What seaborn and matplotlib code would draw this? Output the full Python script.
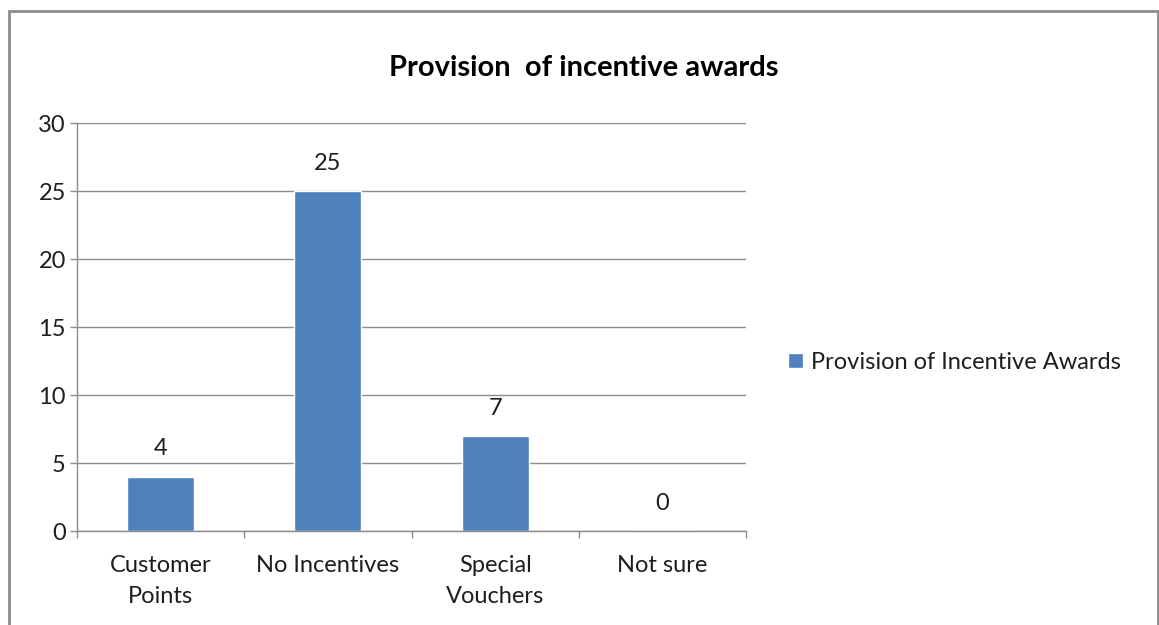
import matplotlib
matplotlib.use("Agg")
import matplotlib.pyplot as plt
from matplotlib.patches import Rectangle
import seaborn as sns
import pandas as pd

categories = ["Customer\nPoints", "No Incentives", "Special\nVouchers", "Not sure"]
values = [4, 25, 7, 0]
series_name = "Provision of Incentive Awards"
title = "Provision  of incentive awards"
y_ticks = [0, 5, 10, 15, 20, 25, 30]

sns.set_theme(style="white")
plt.rcParams["font.family"] = ["Lato", "DejaVu Sans"]

df = pd.DataFrame({"category": categories, "value": values, "series": series_name})

W, H = 1159, 625
fig = plt.figure(figsize=(W / 100, H / 100), dpi=100)
fig.patch.set_facecolor("white")

# outer chart frame
fig.add_artist(Rectangle((9 / W, -0.05), (1158 - 9) / W, 1.05 - 11 / H,
                         transform=fig.transFigure, fill=False,
                         edgecolor="#8c8c8c", linewidth=2))

ax = fig.add_axes([77 / W, 1 - 531 / H, (746 - 77) / W, (531 - 123) / H])
bar_color = "#4F81BD"
sns.barplot(data=df, x="category", y="value", hue="series", palette=[bar_color],
            width=0.4, ax=ax, saturation=1)

text_color = "#1e1e1e"
fs = 17

ax.set_ylim(0, 30)
ax.set_xlim(-0.5, len(categories) - 0.5)
ax.set_yticks(y_ticks)
ax.set_yticklabels([str(t) for t in y_ticks], fontsize=fs, color=text_color)
ax.set_xticks(range(len(categories)))
ax.set_xticklabels(categories, fontsize=fs, color=text_color, linespacing=1.6)
ax.set_xlabel("")
ax.set_ylabel("")

grid_color = "#8c8c8c"
ax.yaxis.grid(True, color=grid_color, linewidth=1)
ax.set_axisbelow(True)
for s in ["top", "right"]:
    ax.spines[s].set_visible(False)
for s in ["left", "bottom"]:
    ax.spines[s].set_color(grid_color)
    ax.spines[s].set_linewidth(1)

ax.tick_params(axis="y", which="major", left=True, length=5, color=grid_color, width=1, pad=3)
ax.tick_params(axis="x", which="major", bottom=False, pad=11)
# category-boundary ticks on the x axis
ax.set_xticks([i - 0.5 for i in range(len(categories) + 1)], minor=True)
ax.tick_params(axis="x", which="minor", bottom=True, length=5, color=grid_color, width=1)

# value labels above each bar
for i, v in enumerate(values):
    ax.annotate(str(v), (i, v), xytext=(0, 20), textcoords="offset points",
                ha="center", va="center", fontsize=fs, color=text_color)

fig.text(584 / W, 1 - 68 / H, title, fontsize=21, fontweight="bold",
         color="black", ha="center", va="center")

leg = ax.legend(loc="center left", bbox_to_anchor=(767 / W, 1 - 362 / H),
                bbox_transform=fig.transFigure, frameon=False, fontsize=fs,
                handlelength=0.62, handleheight=0.62, handletextpad=0.35)
for t in leg.get_texts():
    t.set_color(text_color)

fig.savefig("out.png", dpi=100, facecolor="white")
